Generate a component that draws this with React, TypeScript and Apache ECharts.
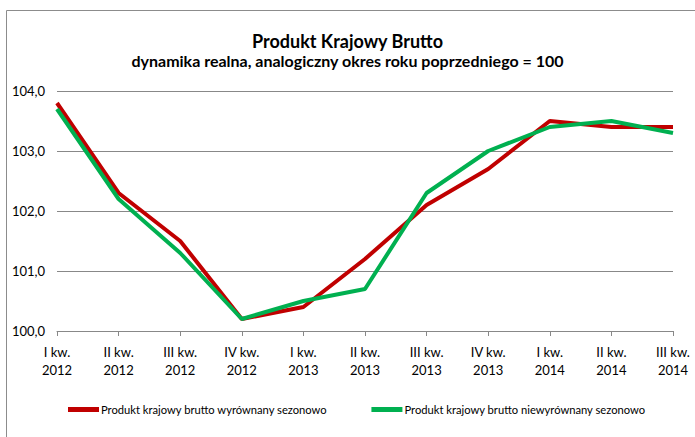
import React, { useEffect, useRef } from "react";
import * as echarts from "echarts";

const quarters = ["I kw.", "II kw.", "III kw.", "IV kw.", "I kw.", "II kw.", "III kw.", "IV kw.", "I kw.", "II kw.", "III kw."];
const years = ["2012", "2012", "2012", "2012", "2013", "2013", "2013", "2013", "2014", "2014", "2014"];
const categories = quarters.map((q, i) => q + "\n" + years[i]);
const seasonallyAdjusted = [103.8, 102.3, 101.5, 100.2, 100.4, 101.2, 102.1, 102.7, 103.5, 103.4, 103.4];
const notAdjusted = [103.7, 102.2, 101.3, 100.2, 100.5, 100.7, 102.3, 103.0, 103.4, 103.5, 103.3];
const seriesNames = [
  "Produkt krajowy brutto wyrównany sezonowo",
  "Produkt krajowy brutto niewyrównany sezonowo",
];
const titleText = "Produkt Krajowy Brutto";
const subtitleText = "dynamika realna, analogiczny okres roku poprzedniego = 100";

const FONT = "Lato, 'Open Sans', sans-serif";

export default function App() {
  const ref = useRef<HTMLDivElement>(null);
  useEffect(() => {
    if (!ref.current) return;
    const chart = echarts.init(ref.current, undefined, { renderer: "svg" });
    chart.setOption({
      animation: false,
      backgroundColor: "#ffffff",
      title: {
        text: titleText,
        subtext: subtitleText,
        left: "center",
        top: 27,
        itemGap: 2,
        textStyle: { fontFamily: FONT, fontSize: 18, fontWeight: "bold", color: "#000" },
        subtextStyle: { fontFamily: FONT, fontSize: 16, fontWeight: "bold", color: "#000" },
      },
      graphic: [
        {
          type: "rect",
          shape: { x: 6.5, y: 10.5, width: 800, height: 600 },
          style: { fill: "none", stroke: "#8c8c8c", lineWidth: 1 },
          silent: true,
          z: -1,
        },
      ],
      legend: {
        left: 63,
        top: 399,
        itemWidth: 31,
        itemHeight: 5,
        itemGap: 44,
        icon: "rect",
        textStyle: { fontFamily: FONT, fontSize: 11.2, color: "#000", padding: [0, 0, 0, -3] },
        data: seriesNames,
      },
      grid: { left: 57, right: 22, top: 91, bottom: 106, containLabel: false },
      xAxis: {
        type: "category",
        data: categories,
        boundaryGap: false,
        axisLine: { lineStyle: { color: "#888", width: 1 } },
        axisTick: { show: true, length: 5, lineStyle: { color: "#888" }, inside: false },
        axisLabel: {
          fontFamily: FONT,
          fontSize: 13,
          color: "#000",
          lineHeight: 18,
          margin: 12,
          interval: 0,
        },
      },
      yAxis: {
        type: "value",
        min: 100,
        max: 104,
        interval: 1,
        axisLine: { show: false },
        axisTick: { show: false },
        splitLine: { lineStyle: { color: "#888", width: 1 } },
        axisLabel: {
          fontFamily: FONT,
          fontSize: 13,
          color: "#000",
          margin: 12,
          formatter: (v: number) => v.toFixed(1).replace(".", ","),
        },
      },
      series: [
        {
          name: seriesNames[0],
          type: "line",
          data: seasonallyAdjusted,
          symbol: "none",
          lineStyle: { color: "#C00000", width: 4 },
          itemStyle: { color: "#C00000" },
          z: 2,
        },
        {
          name: seriesNames[1],
          type: "line",
          data: notAdjusted,
          symbol: "none",
          lineStyle: { color: "#00B050", width: 4 },
          itemStyle: { color: "#00B050" },
          z: 3,
        },
      ],
    });
    return () => chart.dispose();
  }, []);
  return <div ref={ref} style={{ width: 695, height: 437, position: "absolute", left: 0, top: 0 }} />;
}
